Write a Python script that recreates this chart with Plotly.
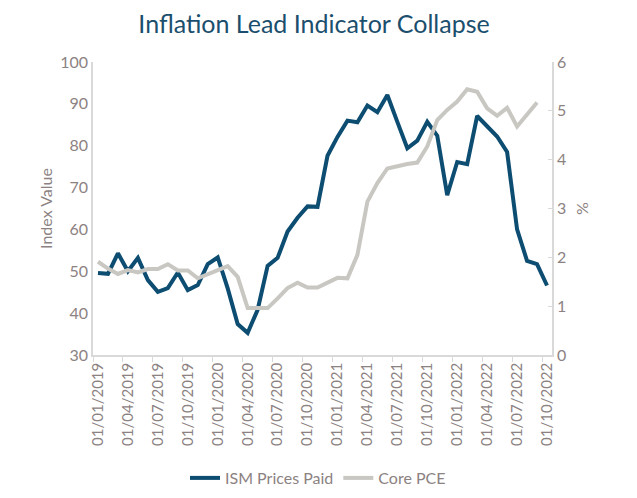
import plotly.graph_objects as go

months = [f"01/{m:02d}/{y}" for y in range(2019, 2023) for m in range(1, 13)][:46]

ism_prices_paid = [49.6, 49.4, 54.3, 50.0, 53.2, 47.9, 45.1, 46.0, 49.7, 45.5, 46.7, 51.7,
                   53.3, 45.9, 37.4, 35.3, 40.8, 51.3, 53.2, 59.5, 62.8, 65.5, 65.4, 77.6,
                   82.1, 86.0, 85.6, 89.6, 88.0, 92.1, 85.7, 79.4, 81.2, 85.7, 82.4, 68.2,
                   76.1, 75.6, 87.1, 84.6, 82.2, 78.5, 60.0, 52.5, 51.7, 46.6]

core_pce = [1.91, 1.77, 1.66, 1.74, 1.69, 1.76, 1.76, 1.86, 1.73, 1.73, 1.57, 1.65,
            1.74, 1.82, 1.60, 0.96, 0.96, 0.96, 1.16, 1.37, 1.48, 1.38, 1.38, 1.48,
            1.58, 1.57, 2.05, 3.14, 3.52, 3.82, 3.87, 3.91, 3.94, 4.27, 4.81, 5.02,
            5.19, 5.44, 5.39, 5.05, 4.90, 5.06, 4.68, 4.92, 5.17]

tick_color = "#8c8282"
axis_line = "#d9d9d9"
font_family = "Lato, 'Open Sans', sans-serif"

W, H = 629, 490  # page body adds an 8px offset

fig = go.Figure()
fig.add_trace(go.Scatter(x=months, y=ism_prices_paid, name="ISM Prices Paid",
                         mode="lines", line=dict(color="#0d4d72", width=4)))
fig.add_trace(go.Scatter(x=months[:len(core_pce)], y=core_pce, name="Core PCE",
                         mode="lines", line=dict(color="#c9c7c2", width=4), yaxis="y2"))

fig.update_layout(
    width=W, height=H,
    margin=dict(l=85, r=85, t=54, b=143, autoexpand=False),
    paper_bgcolor="white", plot_bgcolor="white",
    font=dict(family=font_family, color=tick_color, size=15),
    title=dict(text="Inflation Lead Indicator Collapse", x=306 / W, xanchor="center",
               xref="container", y=1 - 16 / H, yanchor="middle", yref="container",
               font=dict(family=font_family, size=25, color="#1b4f6d")),
    xaxis=dict(type="category", tickmode="linear", tick0=0, dtick=3,
               tickson="boundaries", ticks="outside", ticklen=5, tickcolor=axis_line,
               showline=True, linecolor=axis_line, linewidth=1.5, showgrid=False,
               tickangle=-90, tickfont=dict(size=15, color=tick_color),
               range=[-0.5, 45.5], automargin=False),
    yaxis=dict(range=[30, 100], dtick=10, showgrid=False, zeroline=False,
               showline=True, linecolor=axis_line, linewidth=1.5, ticks="",
               tickfont=dict(size=16, color=tick_color), automargin=False,
               title=dict(text="Index Value", font=dict(size=16, color=tick_color), standoff=4)),
    yaxis2=dict(range=[0, 6], dtick=1, overlaying="y", side="right", showgrid=False,
                zeroline=False, showline=True, linecolor=axis_line, linewidth=1.5,
                ticks="inside", ticklen=4, tickcolor=axis_line, automargin=False,
                tickfont=dict(size=16, color=tick_color),
                title=dict(text="%", font=dict(size=16, color=tick_color), standoff=12)),
    legend=dict(orientation="h", x=310 / W, xanchor="center", xref="container",
                y=20 / H, yanchor="middle", yref="container",
                font=dict(size=16, color=tick_color), itemwidth=30, tracegroupgap=0),
    showlegend=True,
)

fig.write_html("out.html")
